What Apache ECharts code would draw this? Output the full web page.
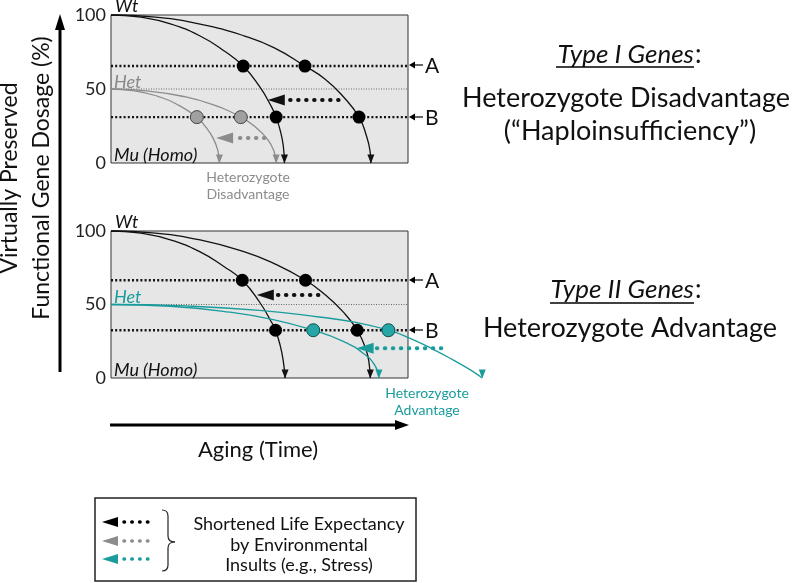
<!DOCTYPE html>
<html>
<head>
<meta charset="utf-8">
<script src="https://cdn.jsdelivr.net/npm/echarts@6/dist/echarts.min.js"></script>
<style>
  html, body { margin: 0; padding: 0; background: #fff; }
  #main { width: 800px; height: 583px; }
</style>
</head>
<body>
<div id="main"></div>
<script>
// tick labels of the dosage axis (%)
var yTicks = [0, 50, 100];

// threshold levels A / B and the Het starting level, [top panel, bottom panel]
var levelA = [65.5, 66.5];
var levelB = [31, 32.5];
var hetLevel = 50;

// Wt curves (x = aging, y = preserved dosage %)
var wtFastTop = [[0,100],[10,98.5],[20,94],[30,85.8],[38,75.9],[44.5,65.5],[50,51.7],[54,38.1],[55.6,31],[57,21.8],[58,11.7],[58.4,0]];
var wtSlowTop = [[0,100],[15,98.5],[30,93.9],[45,85.8],[55,77.8],[65.3,65.5],[72,56.8],[78,45.3],[83.5,31],[86,18.4],[87.2,8.3],[87.5,0]];
var wtFastBot = [[0,100],[10,98.5],[20,94],[30,85.8],[38,75.9],[44.2,66.5],[50,51.7],[54,38.1],[55.4,32.5],[57,21.8],[58,11.7],[58.6,0]];
var wtSlowBot = [[0,100],[15,98.5],[30,93.9],[45,85.8],[55,77.8],[65.5,66.5],[72,56.8],[78,45.3],[82.9,32.5],[86,18.4],[87,8.3],[87.3,0]];

// Het curves
var hetFastTop = [[0,50],[8,48.8],[16,44.9],[22,39.9],[28.9,31],[32,24],[34.5,16.3],[36,8.2],[36.5,0]];
var hetSlowTop = [[0,50],[12,48.8],[24,45.1],[34,39.6],[43.7,31],[49,23.6],[52.5,16.5],[54.8,8.5],[55.6,0]];
var hetFastBot = [[0,50],[20,48.8],[40,44.8],[55,39.6],[68.1,32.5],[78,25.1],[85,16.7],[89,8.1],[90.2,0]];
var hetSlowBot = [[0,50],[25,49],[50,46],[70,41.5],[82,38],[93.4,32.5],[100.7,27],[108,20],[115,12.5],[121,5.5],[125,0]];

// crossing points
var dotsBlackTop = [[44.5,65.5],[65.3,65.5],[55.6,31],[83.5,31]];
var dotsGrayTop  = [[28.9,31],[43.7,31]];
var dotsBlackBot = [[44.2,66.5],[65.5,66.5],[55.4,32.5],[82.9,32.5]];
var dotsTealBot  = [[68.1,32.5],[93.4,32.5]];

// insult arrows: [tip x, dots start x, dots end x, y]
var insultBlackTop = [52.8, 60.3, 78.8, 42.6];
var insultGrayTop  = [35.4, 43.4, 51.9, 16.9];
var insultBlackBot = [49.1, 56.2, 72, 56.5];
var insultTealBot  = [82.7, 89.5, 113.6, 20.2];

var BLACK = '#111', GRAY = '#8c8c8c', TEAL = '#1a9c9c';
var FONT = 'Lato, "Open Sans", sans-serif';

var chart = echarts.init(document.getElementById('main'));

function panel(g) {
  // shaded box of the panel (aging 0-100, dosage 0-100)
  return { type: 'line', xAxisIndex: g, yAxisIndex: g, data: [], z: 1, silent: true,
    markArea: { silent: true, itemStyle: { color: '#e6e6e6', borderColor: '#333', borderWidth: 1 },
      data: [[{ coord: [0, 0] }, { coord: [100, 100] }]] } };
}
function curve(g, data, color) {
  return { type: 'line', xAxisIndex: g, yAxisIndex: g, data: data, smooth: 0.5,
    symbol: 'none', clip: false, silent: true, z: 3, lineStyle: { color: color, width: 1.3 } };
}
function level(g, v, style) {
  return { type: 'line', xAxisIndex: g, yAxisIndex: g, data: [[0, v], [100, v]], symbol: 'none',
    silent: true, z: 2, lineStyle: style };
}
function dots(g, data, fill, border) {
  return { type: 'scatter', xAxisIndex: g, yAxisIndex: g, data: data, symbolSize: 13, clip: false, z: 6,
    itemStyle: { color: fill, borderColor: border, borderWidth: border ? 1 : 0, opacity: 1 } };
}
function ends(g, curves, color) {
  return { type: 'scatter', xAxisIndex: g, yAxisIndex: g, clip: false, z: 5,
    data: curves.map(function (c) { return c[c.length - 1]; }),
    symbol: 'triangle', symbolRotate: 180, symbolSize: [7, 9], symbolOffset: [0, -4],
    itemStyle: { color: color, opacity: 1 } };
}
function insult(g, a, color) {
  return [
    { type: 'line', xAxisIndex: g, yAxisIndex: g, data: [[a[1], a[3]], [a[2], a[3]]], symbol: 'none',
      clip: false, silent: true, z: 4, lineStyle: { color: color, width: 4, type: [0.5, 7.5], cap: 'round' } },
    { type: 'scatter', xAxisIndex: g, yAxisIndex: g, data: [[a[0], a[3]]], clip: false, z: 4,
      symbol: 'triangle', symbolRotate: 90, symbolSize: [11, 17], symbolOffset: [8.5, 0],
      itemStyle: { color: color, opacity: 1 } }
  ];
}

var dottedA = { color: BLACK, width: 2.4, type: [2, 2.2] };
var hetLine = { color: '#666', width: 1, type: [1, 1.5] };

var yAxisCfg = function (g) {
  return { type: 'value', gridIndex: g, min: yTicks[0], max: yTicks[yTicks.length - 1], interval: 50,
    axisLine: { show: false }, axisTick: { show: false }, splitLine: { show: false },
    axisLabel: { fontSize: 18, color: '#222', margin: 5, fontFamily: FONT } };
};

var series = [
  panel(0),
  level(0, hetLevel, hetLine), level(0, levelA[0], dottedA), level(0, levelB[0], dottedA),
  curve(0, wtFastTop, BLACK), curve(0, wtSlowTop, BLACK),
  curve(0, hetFastTop, GRAY), curve(0, hetSlowTop, GRAY),
  ends(0, [wtFastTop, wtSlowTop], BLACK), ends(0, [hetFastTop, hetSlowTop], GRAY),
  dots(0, dotsBlackTop, '#000'), dots(0, dotsGrayTop, '#a0a0a0', '#444'),
  panel(1),
  level(1, hetLevel, hetLine), level(1, levelA[1], dottedA), level(1, levelB[1], dottedA),
  curve(1, wtFastBot, BLACK), curve(1, wtSlowBot, BLACK),
  curve(1, hetFastBot, TEAL), curve(1, hetSlowBot, TEAL),
  ends(1, [wtFastBot, wtSlowBot], BLACK), ends(1, [hetFastBot, hetSlowBot], TEAL),
  dots(1, dotsBlackBot, '#000'), dots(1, dotsTealBot, '#26a6a6', '#0b4f4f')
].concat(insult(0, insultBlackTop, BLACK), insult(0, insultGrayTop, GRAY),
         insult(1, insultBlackBot, BLACK), insult(1, insultTealBot, TEAL));

function txt(x, y, text, size, opt) {
  opt = opt || {};
  return { type: 'text', x: x, y: y, rotation: opt.rotation || 0, z: 10,
    style: { text: text, fontSize: size, fontFamily: FONT, fontStyle: opt.italic ? 'italic' : 'normal',
      fill: opt.color || '#111', align: opt.align || 'left', verticalAlign: 'middle',
      lineHeight: opt.lineHeight } };
}
function hline(x1, x2, y, w, color) {
  return { type: 'line', z: 10, shape: { x1: x1, y1: y, x2: x2, y2: y }, style: { stroke: color || '#000', lineWidth: w } };
}
function tri(points, color) {
  return { type: 'polygon', z: 10, shape: { points: points }, style: { fill: color } };
}
function curl(x1, y1, x2, y2, cx, cy) {
  return { type: 'bezierCurve', z: 10, shape: { x1: x1, y1: y1, x2: x2, y2: y2, cpx1: cx, cpy1: cy },
    style: { fill: 'none', stroke: '#222', lineWidth: 1.2 } };
}
function abArrow(y, label) {
  return [hline(412, 423, y, 1.2), tri([[409, y], [415, y - 3.5], [415, y + 3.5]], '#000'),
          txt(425, y + 1, label, 21)];
}
function legendArrow(y, color) {
  return [tri([[102, y], [118, y - 5], [118, y + 5]], color),
          { type: 'line', z: 10, shape: { x1: 124, y1: y, x2: 152, y2: y },
            style: { stroke: color, lineWidth: 3.5, lineDash: [0.5, 7.3], lineCap: 'round' } }];
}

var graphic = [].concat(
  // vertical and horizontal big arrows
  [{ type: 'line', z: 10, shape: { x1: 60, y1: 372, x2: 60, y2: 26 }, style: { stroke: '#000', lineWidth: 3 } },
   tri([[60, 14], [55, 30], [65, 30]], '#000'),
   hline(110, 398, 425, 3),
   tri([[409, 425], [395, 420], [395, 430]], '#000'),
   txt(26, 178, 'Virtually Preserved\nFunctional Gene Dosage (%)', 23, { rotation: Math.PI / 2, align: 'center', lineHeight: 32 }),
   txt(258, 450, 'Aging (Time)', 22, { align: 'center' }),
   // panel labels
   txt(115, 6, 'Wt', 18, { italic: true }),
   txt(114, 82, 'Het', 18, { italic: true, color: '#888' }),
   txt(114, 155, 'Mu (Homo)', 18, { italic: true }),
   txt(115, 222, 'Wt', 18, { italic: true }),
   txt(114, 297, 'Het', 18, { italic: true, color: TEAL }),
   txt(114, 370, 'Mu (Homo)', 18, { italic: true }),
   txt(248, 177, 'Heterozygote', 14, { align: 'center', color: GRAY }),
   txt(248, 194, 'Disadvantage', 14, { align: 'center', color: GRAY }),
   txt(427, 393, 'Heterozygote', 14, { align: 'center', color: TEAL }),
   txt(427, 410, 'Advantage', 14, { align: 'center', color: TEAL }),
   // right side titles
   txt(694, 55, 'Type I Genes', 26, { italic: true, align: 'right' }),
   txt(695, 55, ':', 26),
   hline(556, 694, 67, 1.5),
   txt(626, 98, 'Heterozygote Disadvantage', 27, { align: 'center' }),
   txt(630, 131, '(\u201cHaploinsufficiency\u201d)', 27, { align: 'center' }),
   txt(694, 290, 'Type II Genes', 26, { italic: true, align: 'right' }),
   txt(695, 290, ':', 26),
   hline(550, 694, 303, 1.5),
   txt(630, 328, 'Heterozygote Advantage', 27, { align: 'center' }),
   // legend box
   { type: 'rect', z: 9, shape: { x: 95, y: 498, width: 321, height: 83 }, style: { fill: '#fff', stroke: '#222', lineWidth: 1.5 } },
   curl(162, 510, 168, 516, 168, 510),
   { type: 'line', z: 10, shape: { x1: 168, y1: 516, x2: 168, y2: 536 }, style: { stroke: '#222', lineWidth: 1.2 } },
   curl(168, 536, 175, 542, 168, 542),
   curl(175, 542, 168, 548, 168, 542),
   { type: 'line', z: 10, shape: { x1: 168, y1: 548, x2: 168, y2: 565 }, style: { stroke: '#222', lineWidth: 1.2 } },
   curl(168, 565, 162, 571, 168, 571),
   txt(299, 524, 'Shortened Life Expectancy', 18, { align: 'center' }),
   txt(299, 545, 'by Environmental', 18, { align: 'center' }),
   txt(299, 565, 'Insults (e.g., Stress)', 18, { align: 'center' })],
  abArrow(65, 'A'), abArrow(117, 'B'), abArrow(280, 'A'), abArrow(330, 'B'),
  legendArrow(522, '#000'), legendArrow(541, GRAY), legendArrow(559, TEAL)
);

chart.setOption({
  animation: false,
  backgroundColor: '#fff',
  // x runs 0-130 so the Het curve of the lower panel can leave the box (box = 0-100)
  grid: [
    { left: 111, top: 15, width: 386.1, height: 148 },
    { left: 111, top: 231, width: 386.1, height: 147 }
  ],
  xAxis: [
    { type: 'value', gridIndex: 0, min: 0, max: 130, show: false },
    { type: 'value', gridIndex: 1, min: 0, max: 130, show: false }
  ],
  yAxis: [yAxisCfg(0), yAxisCfg(1)],
  series: series,
  graphic: graphic
});
</script>
</body>
</html>
